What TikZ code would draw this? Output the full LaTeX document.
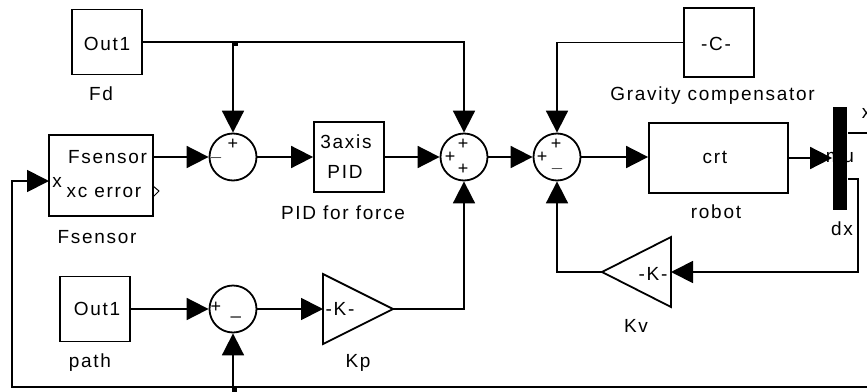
\documentclass[tikz,border=0pt]{standalone}
\usepackage{fontspec}
\setmainfont{Liberation Sans}[LetterSpace=9]
\usetikzlibrary{arrows.meta}
\begin{document}
\begin{tikzpicture}[x=1pt,y=-1pt,line width=1.8pt,
  every node/.style={font=\fontsize{19}{21}\selectfont},
  blk/.style={draw,line width=1.8pt,inner sep=0pt},
  sumc/.style={draw,circle,minimum size=47pt,inner sep=0pt,line width=1.8pt},
  sgn/.style={font=\fontsize{18}{18}\selectfont,inner sep=0pt},
  txt/.style={inner sep=0pt,anchor=base},
  arr/.style={-{Triangle[length=22pt,width=22pt]}},
  dot/.style={fill,inner sep=0pt,minimum size=5pt}]
\useasboundingbox (0,0) rectangle (867,391);

% blocks
\node[blk,minimum width=70pt,minimum height=65pt] (fd) at (107,42) {};
\node[txt] (fdt) at (107,50) {Out1};
\node[txt] (fdl) at (101,100) {Fd};

\node[blk,minimum width=104pt,minimum height=81pt] (fs) at (101,175.5) {};
\node[txt] (fst) at (107.5,163) {Fsensor};
\node[txt] (fsx) at (104,197) {xc error};
\node[txt] (fsxi) at (57,187) {x};
\node[txt] (fsl) at (97,243) {Fsensor};
\draw[line width=1pt] (153,186) -- (159,191) -- (153,197);

\node[sumc] (sum1) at (233,157) {};
\node[sgn] (s1a) at (233,144) {+};
\node[sgn] (s1b) at (216,158) {$-$};

\node[blk,minimum width=70pt,minimum height=70pt] (pid) at (349,157) {};
\node[txt] (pidt1) at (346,148) {3axis};
\node[txt] (pidt2) at (345,178) {PID};
\node[txt] (pidl) at (343,219) {PID for force};

\node[sumc] (sum2) at (464,157) {};
\node[sgn] (s2a) at (463,144) {+};
\node[sgn] (s2b) at (450,157) {+};
\node[sgn] (s2c) at (463,169) {+};

\node[sumc] (sum3) at (557,157) {};
\node[sgn] (s3a) at (556,144) {+};
\node[sgn] (s3b) at (542,157) {+};
\node[sgn] (s3c) at (557,169) {$-$};

\node[blk,minimum width=70pt,minimum height=69pt] (gc) at (719,42.5) {};
\node[txt] (gct) at (716,50) {-C-};
\node[txt] (gcl) at (712.5,100) {Gravity compensator};

\node[blk,minimum width=139pt,minimum height=70pt] (robot) at (718.5,158) {};
\node[txt] (robt) at (715,163) {crt};
\node[txt] (robl) at (716,218) {robot};

\node[txt] (mut) at (840,162) {mu};
\node[fill,inner sep=0pt,minimum width=14pt,minimum height=103pt] (dmx) at (840,158.5) {};
\node[txt] (dxl) at (842,235) {dx};
\node[txt,anchor=base west] (xo) at (861,118) {x};

\coordinate (kvtip) at (602,272);
\coordinate (kvtop) at (671,237);
\coordinate (kvbot) at (671,307);
\coordinate (kvin) at (671,272);
\draw (kvtip) -- (kvtop) -- (kvbot) -- cycle;
\node[txt] (kvt) at (653,280) {-K-};
\node[txt] (kvl) at (636,332) {Kv};

\node[blk,minimum width=70pt,minimum height=65pt] (path) at (95,309) {};
\node[txt] (patht) at (97,315) {Out1};
\node[txt] (pathl) at (90,367) {path};

\node[sumc] (sum4) at (233,309) {};
\node[sgn] (s4a) at (216,307) {+};
\node[sgn] (s4b) at (236,316) {\_};

\coordinate (kpin) at (323,309);
\coordinate (kptop) at (323,274);
\coordinate (kpbot) at (323,344);
\coordinate (kptip) at (393,309);
\draw (kpin) -- (kptop) -- (kptip) -- (kpbot) -- cycle;
\node[txt] (kpt) at (340,315) {-K-};
\node[txt] (kpl) at (358,367) {Kp};

% connectors
\coordinate (j1) at (233,42);
\draw[arr] (fd.east) -| (sum2.north);
\draw[arr] (j1) -- (sum1.north);
\node[dot] (jd1) at (235,43) {};

\coordinate (fsout) at (153,157);
\coordinate (fsin) at (49,181);
\draw[arr] (fsout) -- (sum1.west);
\draw[arr] (sum1.east) -- (pid.west);
\draw[arr] (pid.east) -- (sum2.west);
\draw[arr] (sum2.east) -- (sum3.west);
\draw[arr] (gc.west) -| (sum3.north);
\draw[arr] (sum3.east) -- (robot.west |- sum3.east);
\draw[arr] (robot.east) -- (dmx.west |- robot.east);

\coordinate (o1) at (870,133);
\draw (dmx.east |- o1) -- (o1);
\coordinate (c1) at (858,179);
\coordinate (c2) at (858,272);
\draw[arr] (dmx.east |- c1) -- (c1) -- (c2) -- (kvin);
\draw[arr] (kvtip) -| (sum3.south);

\draw[arr] (path.east) -- (sum4.west);
\draw[arr] (sum4.east) -- (kpin);
\draw[arr] (kptip) -| (sum2.south);

\coordinate (fbr) at (870,387);
\coordinate (fbl) at (12,387);
\coordinate (j2) at (233,387);
\draw[arr] (fbr) -- (fbl) |- (fsin);
\draw[arr] (j2) -- (sum4.south);
\node[dot] (jd2) at (234,389) {};
\end{tikzpicture}
\end{document}
